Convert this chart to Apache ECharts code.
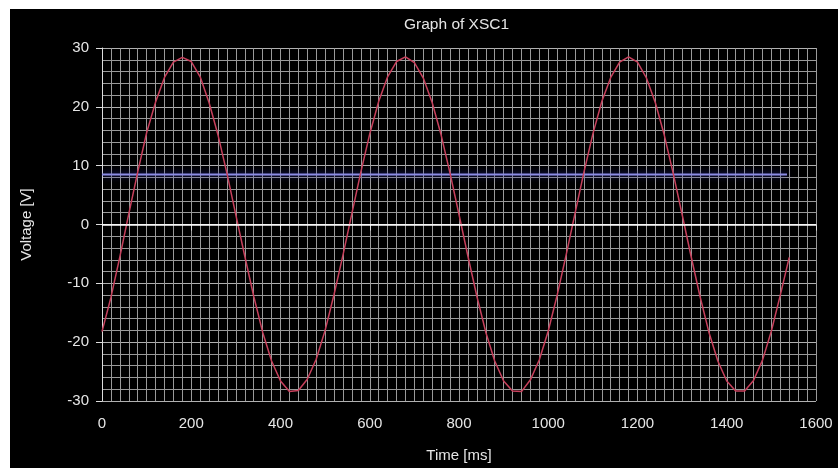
<!DOCTYPE html>
<html>
<head>
<meta charset="utf-8">
<script src="https://cdn.jsdelivr.net/npm/echarts@6/dist/echarts.min.js"></script>
<style>
  html, body { margin: 0; padding: 0; background: #fff; }
  #chart { position: absolute; left: 10px; top: 9px; width: 828px; height: 459px; background: #000; }
</style>
</head>
<body>
<div id="chart"></div>
<script>
// time samples (ms) of the XSC1 trace
var times = [0, 20, 40, 60, 80, 100, 120, 140, 160, 180, 200, 220, 240, 260, 280, 300, 320, 340, 360, 380, 400, 420, 440, 460, 480,
  500, 520, 540, 560, 580, 600, 620, 640, 660, 680, 700, 720, 740, 760, 780, 800, 820, 840, 860, 880, 900, 920, 940, 960, 980,
  1000, 1020, 1040, 1060, 1080, 1100, 1120, 1140, 1160, 1180, 1200, 1220, 1240, 1260, 1280, 1300, 1320, 1340, 1360, 1380, 1400, 1420, 1440, 1460, 1480,
  1500, 1520, 1540]
// channel A voltage (V)
var voltage = [-18.2, -12.4, -5.5, 1.8, 8.9, 15.6, 20.8, 25.0, 27.6, 28.4, 27.7, 25.1, 20.7, 15.2, 8.7, 1.6, -5.4, -12.2, -18.3, -23.2, -26.6, -28.4, -28.2, -26.3, -22.9,
  -18.0, -11.9, -5.2, 1.9, 8.9, 15.4, 20.9, 25.1, 27.7, 28.5, 27.5, 24.9, 20.7, 15.2, 8.7, 1.7, -5.4, -12.2, -18.3, -23.2, -26.6, -28.3, -28.4, -26.4, -23.0,
  -18.1, -12.0, -5.2, 1.9, 8.9, 15.4, 20.9, 25.0, 27.6, 28.5, 27.6, 24.9, 20.7, 15.2, 8.7, 1.7, -5.4, -12.2, -18.3, -23.2, -26.6, -28.3, -28.3, -26.5, -23.1,
  -18.1, -12.0, -5.6]
// channel B: flat dc level
var levelTimes = [0, 1535]
var level = [8.5, 8.5]
var xTicks = [0, 1600, 200]
var yTicks = [-30, 30, 10]

var chart = echarts.init(document.getElementById('chart'))
var txt = '#e6e6e6'
var gridCol = '#9a9a9a'

chart.setOption({
  backgroundColor: '#000',
  animation: false,
  textStyle: { fontFamily: 'Liberation Sans, Arial, sans-serif' },
  graphic: [
    {
      type: 'text',
      left: 446 - 52,
      top: 8,
      style: { text: 'Graph of XSC1', fill: txt, font: '15.5px Liberation Sans, Arial, sans-serif' }
    }
  ],
  grid: { left: 92, right: 22, top: 39, bottom: 60 },
  xAxis: {
    type: 'value',
    min: xTicks[0],
    max: xTicks[1],
    interval: xTicks[2],
    name: 'Time [ms]',
    nameLocation: 'middle',
    nameGap: 47,
    nameTextStyle: { color: txt, fontSize: 15 },
    axisLine: { show: true, lineStyle: { color: '#ddd', width: 1 } },
    axisTick: { show: true, length: 6, lineStyle: { color: '#ddd' } },
    axisLabel: { color: txt, fontSize: 15, margin: 15, formatter: function (v) { return String(v) } },
    splitLine: { show: true, lineStyle: { color: gridCol, width: 1 } },
    minorTick: { show: false, splitNumber: 10 },
    minorSplitLine: { show: true, lineStyle: { color: gridCol, width: 1 } }
  },
  yAxis: {
    type: 'value',
    min: yTicks[0],
    max: yTicks[1],
    interval: yTicks[2],
    name: 'Voltage [V]',
    nameLocation: 'middle',
    nameGap: 68,
    nameTextStyle: { color: txt, fontSize: 15 },
    axisLine: { show: true, onZero: false, lineStyle: { color: '#ddd', width: 1 } },
    axisTick: { show: true, length: 6, lineStyle: { color: '#ddd' } },
    axisLabel: { color: txt, fontSize: 15, margin: 13 },
    splitLine: { show: true, lineStyle: { color: '#b0b0b0', width: 1 } },
    minorTick: { show: false, splitNumber: 5 },
    minorSplitLine: { show: true, lineStyle: { color: gridCol, width: 1 } }
  },
  series: [
    {
      type: 'line',
      name: 'B',
      data: levelTimes.map(function (t, i) { return [t, level[i]] }),
      showSymbol: false,
      lineStyle: { color: '#8c8ce6', width: 2, shadowColor: '#2a2aa0', shadowBlur: 6 },
      markLine: {
        silent: true,
        symbol: 'none',
        label: { show: false },
        lineStyle: { color: '#fff', width: 1.5, type: 'solid' },
        data: [{ yAxis: 0 }]
      },
      z: 3
    },
    {
      type: 'line',
      name: 'A',
      data: times.map(function (t, i) { return [t, voltage[i]] }),
      showSymbol: false,
      lineStyle: { color: '#c8405c', width: 1.5 },
      z: 4
    }
  ]
})
</script>
</body>
</html>
